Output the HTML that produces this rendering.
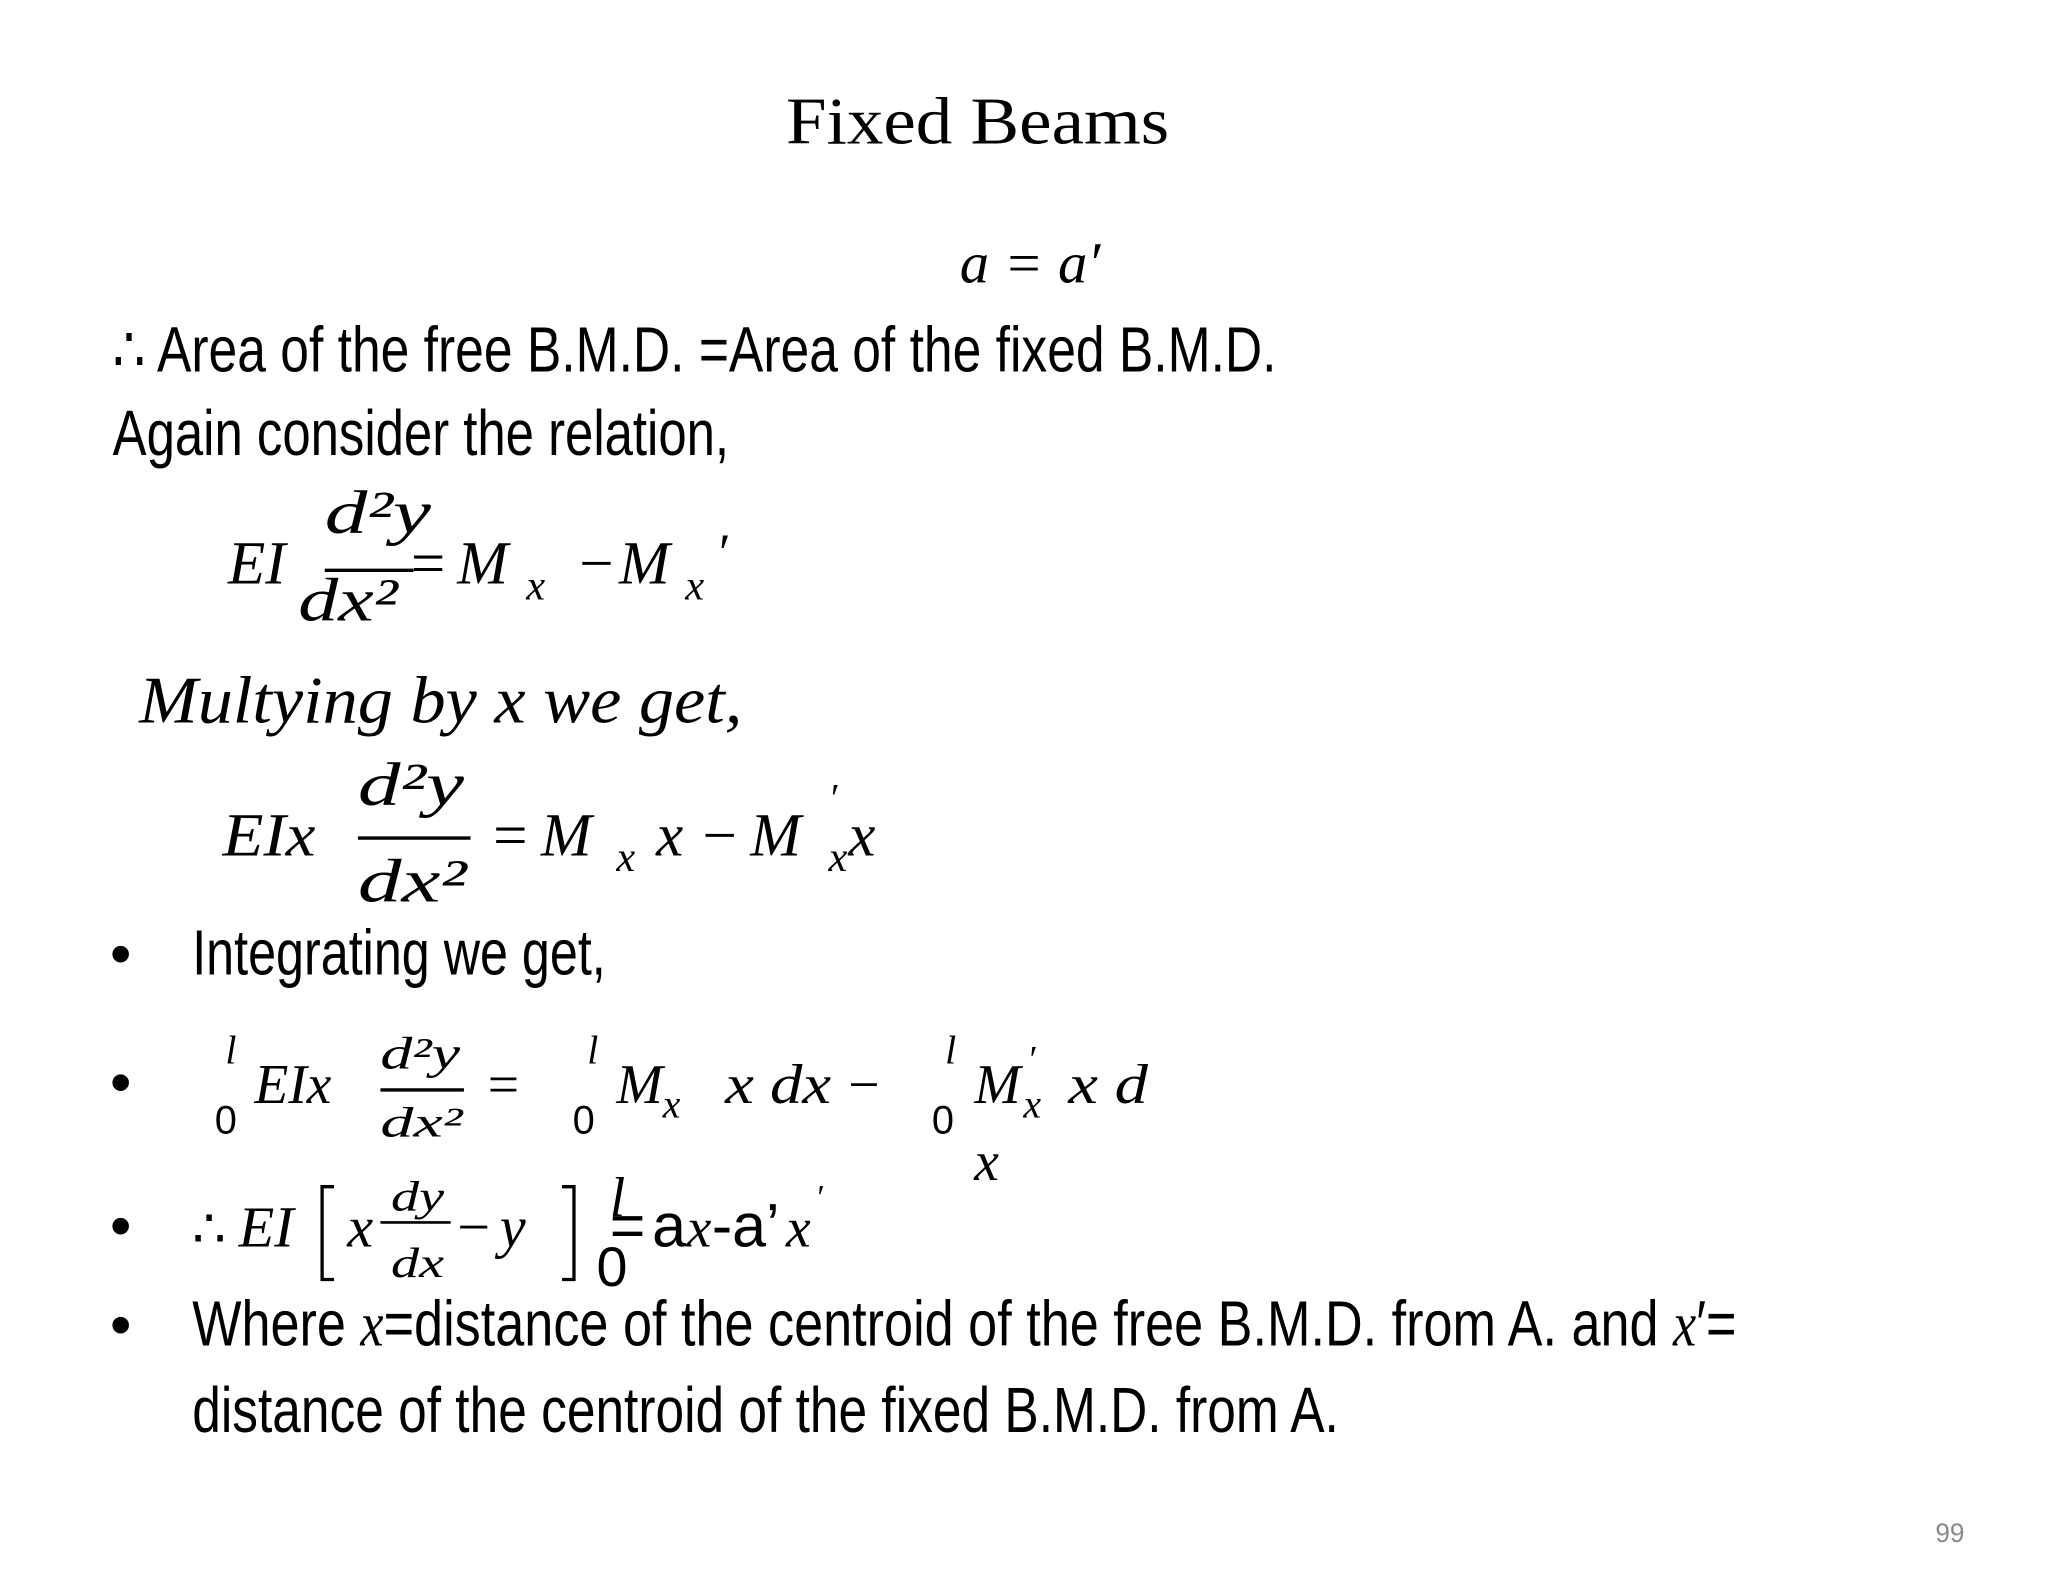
<!DOCTYPE html>
<html><head><meta charset="utf-8"><style>
html,body{margin:0;padding:0;background:#fff;}
svg{display:block}
.s{font-family:"Liberation Sans",sans-serif;fill:#000}
.m{font-family:"Liberation Serif",serif;font-style:italic;fill:#000}
.r{font-family:"Liberation Serif",serif;fill:#000}
</style></head><body>
<svg width="2048" height="1582" viewBox="0 0 1545 1193" xmlns="http://www.w3.org/2000/svg">
<rect width="1545" height="1193" fill="#fff"/>
<text class="r" x="593" y="108" font-size="50" textLength="289" lengthAdjust="spacingAndGlyphs">Fixed Beams</text>
<text class="m" x="724" y="213" font-size="44" textLength="106" lengthAdjust="spacingAndGlyphs">a = a′</text>

<text class="s" x="85" y="280" font-size="48" textLength="878" lengthAdjust="spacingAndGlyphs">∴ Area of the free B.M.D. =Area of the fixed B.M.D.</text>
<text class="s" x="85" y="343" font-size="48" textLength="465" lengthAdjust="spacingAndGlyphs">Again consider the relation,</text>

<!-- eq1 -->
<text class="m" x="172" y="440" font-size="46">EI</text>
<text class="m" x="245" y="402" font-size="46" textLength="80" lengthAdjust="spacingAndGlyphs">d²y</text>
<line x1="245" y1="430" x2="312" y2="430" stroke="#000" stroke-width="2.5"/>
<text class="m" x="225" y="468" font-size="46" textLength="75" lengthAdjust="spacingAndGlyphs">dx²</text>
<text class="r" x="310" y="440" font-size="46">=</text>
<text class="m" x="345" y="440" font-size="46">M</text>
<text class="m" x="397" y="452" font-size="32">x</text>
<text class="r" x="437" y="440" font-size="46">−</text>
<text class="m" x="467" y="440" font-size="46">M</text>
<text class="m" x="517" y="452" font-size="32">x</text>
<text class="m" x="540" y="430" font-size="40">′</text>

<text class="m" x="105" y="545" font-size="50" textLength="455" lengthAdjust="spacingAndGlyphs">Multying by x we get,</text>

<!-- eq2 -->
<text class="m" x="168" y="645" font-size="46" textLength="70" lengthAdjust="spacingAndGlyphs">EIx</text>
<text class="m" x="270" y="607" font-size="46" textLength="80" lengthAdjust="spacingAndGlyphs">d²y</text>
<line x1="270" y1="632" x2="355" y2="632" stroke="#000" stroke-width="2.5"/>
<text class="m" x="270" y="680" font-size="46" textLength="82" lengthAdjust="spacingAndGlyphs">dx²</text>
<text class="r" x="372" y="645" font-size="46">=</text>
<text class="m" x="408" y="645" font-size="46">M</text>
<text class="m" x="465" y="657" font-size="32">x</text>
<text class="m" x="495" y="645" font-size="46">x</text>
<text class="r" x="530" y="645" font-size="46">−</text>
<text class="m" x="566" y="645" font-size="46">M</text>
<text class="m" x="625" y="612" font-size="30">′</text>
<text class="m" x="625" y="657" font-size="32">x</text>
<text class="m" x="640" y="645" font-size="46">x</text>

<text class="s" x="83" y="735" font-size="46">•</text>
<text class="s" x="145" y="735" font-size="48" textLength="312" lengthAdjust="spacingAndGlyphs">Integrating we get,</text>

<!-- integral line -->
<text class="s" x="83" y="832" font-size="46">•</text>
<text class="m" x="170" y="802" font-size="30">l</text>
<text class="s" x="162" y="855" font-size="30">0</text>
<text class="m" x="192" y="832" font-size="42" textLength="58" lengthAdjust="spacingAndGlyphs">EIx</text>
<text class="m" x="287" y="806" font-size="34" textLength="60" lengthAdjust="spacingAndGlyphs">d²y</text>
<line x1="287" y1="822" x2="350" y2="822" stroke="#000" stroke-width="2.5"/>
<text class="m" x="287" y="857" font-size="32" textLength="62" lengthAdjust="spacingAndGlyphs">dx²</text>
<text class="r" x="368" y="832" font-size="42">=</text>
<text class="m" x="443" y="802" font-size="30">l</text>
<text class="s" x="432" y="855" font-size="30">0</text>
<text class="m" x="465" y="832" font-size="42">M</text>
<text class="m" x="500" y="843" font-size="30">x</text>
<text class="m" x="547" y="832" font-size="42" textLength="80" lengthAdjust="spacingAndGlyphs">x dx</text>
<text class="r" x="640" y="832" font-size="42">−</text>
<text class="m" x="713" y="802" font-size="30">l</text>
<text class="s" x="703" y="855" font-size="30">0</text>
<text class="m" x="735" y="832" font-size="42">M</text>
<text class="m" x="775" y="808" font-size="28">′</text>
<text class="m" x="772" y="843" font-size="30">x</text>
<text class="m" x="806" y="832" font-size="42" textLength="60" lengthAdjust="spacingAndGlyphs">x d</text>
<text class="m" x="735" y="890" font-size="42">x</text>

<!-- EI bracket line -->
<text class="s" x="83" y="940" font-size="46">•</text>
<text class="r" x="145" y="940" font-size="40">∴</text>
<text class="m" x="180" y="940" font-size="44">EI</text>
<path d="M252 895 H243 V965 H252" fill="none" stroke="#000" stroke-width="2.5"/>
<text class="m" x="262" y="940" font-size="44">x</text>
<text class="m" x="295" y="913" font-size="32" textLength="40" lengthAdjust="spacingAndGlyphs">dy</text>
<line x1="287" y1="922" x2="340" y2="922" stroke="#000" stroke-width="2"/>
<text class="m" x="295" y="963" font-size="32" textLength="40" lengthAdjust="spacingAndGlyphs">dx</text>
<text class="r" x="345" y="940" font-size="44">−</text>
<text class="m" x="377" y="940" font-size="44">y</text>
<path d="M424 895 H433 V965 H424" fill="none" stroke="#000" stroke-width="2.5"/>
<text class="m" x="460" y="917" font-size="42">l</text>
<text class="s" x="450" y="970" font-size="42">0</text>
<text class="s" x="460" y="940" font-size="46">=</text>
<text class="s" x="492" y="940" font-size="46">a</text>
<text class="m" x="518" y="940" font-size="42">x</text>
<text class="s" x="537" y="940" font-size="46">-a’</text>
<text class="m" x="593" y="940" font-size="42">x</text>
<text class="m" x="615" y="912" font-size="26">′</text>

<text class="s" x="83" y="1015" font-size="46">•</text>
<text class="s" x="145" y="1015" font-size="48" textLength="1165" lengthAdjust="spacingAndGlyphs">Where <tspan class="m" font-family="Liberation Serif" font-style="italic">x</tspan>=distance of the centroid of the free B.M.D. from A.  and <tspan font-family="Liberation Serif" font-style="italic">x</tspan>′=</text>
<text class="s" x="145" y="1080" font-size="48" textLength="865" lengthAdjust="spacingAndGlyphs">distance of the centroid of the fixed B.M.D. from A.</text>

<text class="s" x="1460" y="1163" font-size="20" fill="#8a8a8a" style="fill:#8a8a8a" textLength="22" lengthAdjust="spacingAndGlyphs">99</text>
</svg>
</body></html>
